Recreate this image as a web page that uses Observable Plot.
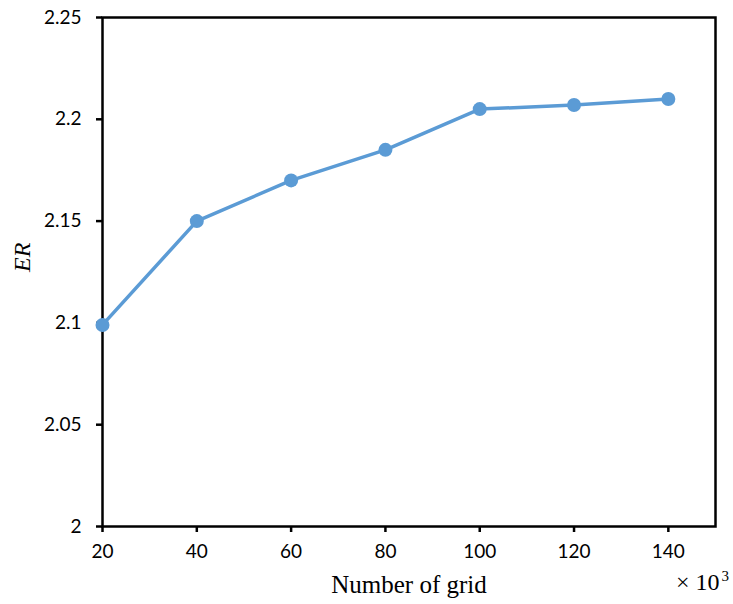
<!DOCTYPE html>
<html>
<head>
<meta charset="utf-8">
<script src="https://cdn.jsdelivr.net/npm/d3@7"></script>
<script src="https://cdn.jsdelivr.net/npm/@observablehq/plot@0.6"></script>
<style>
  html, body { margin: 0; padding: 0; background: #fff; }
  #chart svg { display: block; }
</style>
</head>
<body>
<div id="chart"></div>
<script>
const grid = [20, 40, 60, 80, 100, 120, 140];
const er = [2.099, 2.15, 2.17, 2.185, 2.205, 2.207, 2.21];
const xTicks = [20, 40, 60, 80, 100, 120, 140];
const yTicks = [2, 2.05, 2.1, 2.15, 2.2, 2.25];
const xLabel = "Number of grid";
const yLabel = "ER";
const xUnitBase = "× 10";
const xUnitExp = "3";

const data = grid.map((g, i) => ({ grid: g, er: er[i] }));
const lineColor = "#5B9BD5";
const tickFont = "Lato, 'Open Sans', sans-serif";
const serif = "'Liberation Serif', 'Times New Roman', serif";

const chart = Plot.plot({
  width: 733,
  height: 604,
  marginLeft: 102,
  marginRight: 18,
  marginTop: 17,
  marginBottom: 78,
  style: { background: "#fff", fontFamily: tickFont, fontSize: "19px", color: "#000" },
  x: { domain: [20, 150] },
  y: { domain: [2, 2.25] },
  marks: [
    Plot.frame({ stroke: "#000", strokeWidth: 2.5 }),
    Plot.axisX({ ticks: xTicks, tickSize: 6, tickPadding: 12, tickFormat: d => String(d), label: null, fontSize: 19, strokeWidth: 2.5 }),
    Plot.axisY({ ticks: yTicks, tickSize: 6, tickPadding: 15, tickFormat: d => String(d), label: null, fontSize: 19, strokeWidth: 2.5 }),
    Plot.line(data, { x: "grid", y: "er", stroke: lineColor, strokeWidth: 3.5 }),
    Plot.dot(data, { x: "grid", y: "er", fill: lineColor, r: 7 }),
    Plot.text([xLabel], { frameAnchor: "bottom", dy: 66, text: d => d, fontFamily: serif, fontSize: 25, fill: "#000" }),
    Plot.text([yLabel], { frameAnchor: "left", dx: -80, rotate: -90, text: d => d, fontFamily: serif, fontStyle: "italic", fontSize: 24, fill: "#000" }),
    Plot.text([xUnitBase], { frameAnchor: "bottom-right", dx: 4, dy: 63, textAnchor: "end", text: d => d, fontFamily: serif, fontSize: 24, fill: "#000" }),
    Plot.text([xUnitExp], { frameAnchor: "bottom-right", dx: 6, dy: 54, textAnchor: "start", text: d => d, fontFamily: serif, fontSize: 15, fill: "#000" })
  ]
});
document.getElementById("chart").appendChild(chart);
</script>
</body>
</html>
